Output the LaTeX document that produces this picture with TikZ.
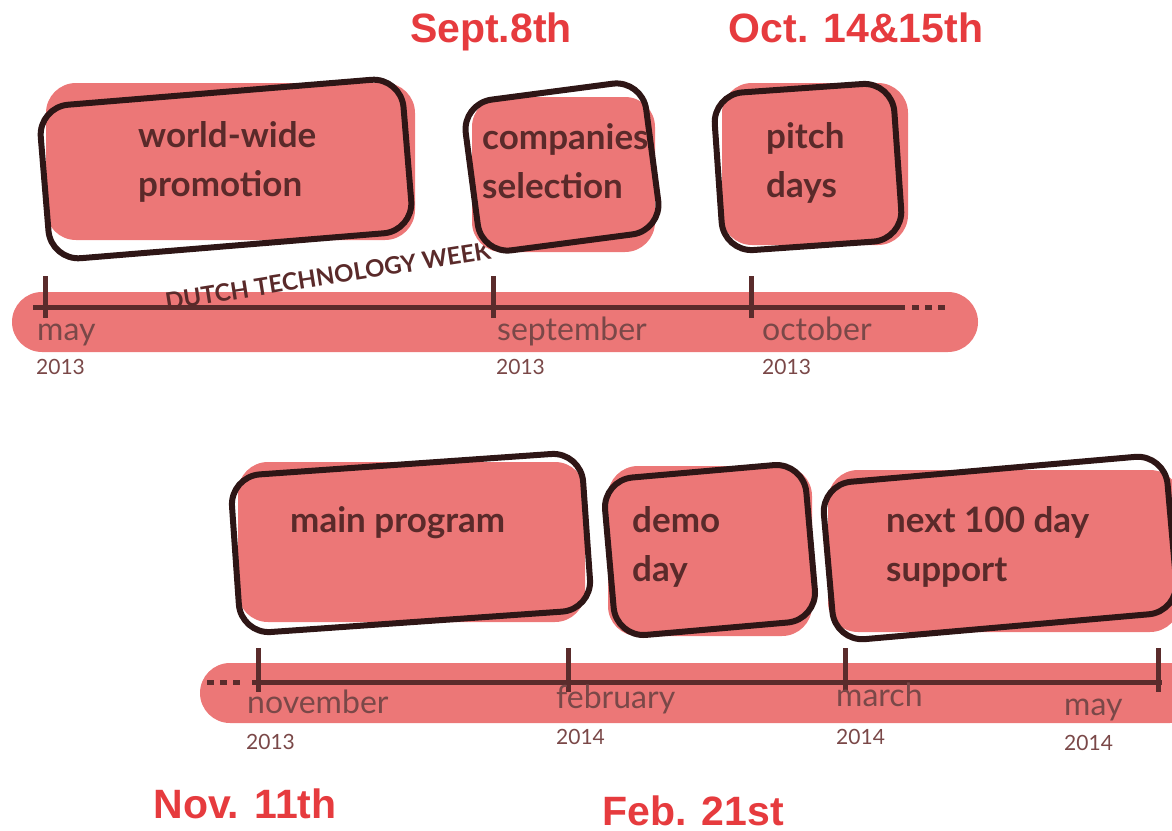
\documentclass[tikz,border=0pt]{standalone}
\usepackage{fontspec}
\setmainfont{Lato}
\newfontfamily\redfont{Liberation Sans}
\definecolor{pinkc}{HTML}{EC7777}
\definecolor{outc}{HTML}{2E1616}
\definecolor{linec}{HTML}{5A2C2C}
\definecolor{txtc}{HTML}{5A2A2A}
\definecolor{monthc}{HTML}{7A4848}
\definecolor{redc}{HTML}{E63B3E}
\tikzset{
  band/.style={fill=pinkc, rounded corners=30pt},
  pinkbox/.style={fill=pinkc, rounded corners=30pt},
  outline/.style={draw=outc, line width=6pt, rounded corners=30pt, inner sep=0pt},
  boxtext/.style={font=\fontsize{35}{49}\selectfont\bfseries, text=txtc, align=left, anchor=west, inner sep=0pt},
  axis/.style={draw=linec, line width=5pt},
  tick/.style={draw=linec, line width=5pt},
  month/.style={font=\fontsize{32}{33}\selectfont, text=monthc, anchor=base west, inner sep=0pt},
  year/.style={font=\fontsize{21}{22}\selectfont, text=monthc, anchor=base west, inner sep=0pt},
  datetext/.style={font=\redfont\bfseries\fontsize{41}{44}\selectfont, text=redc, anchor=base, inner sep=0pt},
  dots/.style={draw=linec, line width=5pt, dash pattern=on 7pt off 6pt}
}
\begin{document}
\begin{tikzpicture}[x=1pt,y=-1pt]
\useasboundingbox (0,0) rectangle (1172,830);
\clip (0,0) rectangle (1172,830);
% ---------- top timeline ----------
\fill[band] (12,292) rectangle (978,352);
\coordinate (tA) at (33,307);
\coordinate (tB) at (905,307);
\draw[axis] (tA) -- (tB);
\coordinate (d1) at (912,307);
\coordinate (d2) at (945,307);
\draw[dots] (d1) -- (d2);
\foreach \x/\n in {45/t1,493/t2,751/t3}{
  \coordinate (\n a) at (\x,276);
  \coordinate (\n b) at (\x,318);
  \draw[tick] (\n a) -- (\n b);
}
\node[month] (m1) at (37,340) {may};
\node[month] (m2) at (497,340) {september};
\node[month] (m3) at (762,340) {october};
\node[year] (y1) at (36,374) {2013};
\node[year] (y2) at (496,374) {2013};
\node[year] (y3) at (762,374) {2013};
\node[font=\fontsize{24}{26}\selectfont\bfseries, text=txtc, rotate=9, inner sep=0pt] (dtw) at (328,276) {DUTCH TECHNOLOGY WEEK};
% boxes top
\fill[pinkbox] (46,83) rectangle (415,240);
\node[outline, minimum width=364pt, minimum height=154pt, rotate=4.7] (o1) at (226,169) {};
\node[boxtext] (b1) at (138,162) {world-wide\\promotion};

\fill[pinkbox] (472,97) rectangle (655,252);
\node[outline, minimum width=182pt, minimum height=152pt, rotate=7.5] (o2) at (562,167) {};
\node[boxtext] (b2) at (482,161) {companies\\selection};

\fill[pinkbox] (722,83) rectangle (908,245);
\node[outline, minimum width=180pt, minimum height=158pt, rotate=4] (o3) at (808,167) {};
\node[boxtext] (b3) at (766,163) {pitch\\days};

\node[datetext] (s1) at (491,42) {Sept.8th};
\node[datetext] (s2) at (856,42) {Oct. 14\&15th};
% ---------- bottom timeline ----------
\fill[band] (200,663) rectangle (1200,723);
\coordinate (d3) at (207,682);
\coordinate (d4) at (240,682);
\draw[dots] (d3) -- (d4);
\coordinate (bA) at (252,682);
\coordinate (bB) at (1162,682);
\draw[axis] (bA) -- (bB);
\foreach \x/\n in {258/u1,568/u2,845/u3,1158/u4}{
  \coordinate (\n a) at (\x,648);
  \coordinate (\n b) at (\x,692);
  \draw[tick] (\n a) -- (\n b);
}
\node[month] (m4) at (247,713) {november};
\node[month] (m5) at (556,708) {february};
\node[month] (m6) at (836,706) {march};
\node[month] (m7) at (1064,715) {may};
\node[year] (y4) at (246,749) {2013};
\node[year] (y5) at (556,744) {2014};
\node[year] (y6) at (836,744) {2014};
\node[year] (y7) at (1064,750) {2014};
% boxes bottom
\fill[pinkbox] (238,462) rectangle (585,622);
\node[outline, minimum width=352pt, minimum height=158pt, rotate=4] (o4) at (411,543) {};
\node[boxtext] (b4) at (290,523) {main program};

\fill[pinkbox] (608,466) rectangle (812,636);
\node[outline, minimum width=202pt, minimum height=158pt, rotate=5] (o5) at (710,550) {};
\node[boxtext] (b5) at (632,547) {demo\\day};

\fill[pinkbox] (828,470) rectangle (1180,632);
\node[outline, minimum width=345pt, minimum height=158pt, rotate=5] (o6) at (1000,548) {};
\node[boxtext] (b6) at (886,547) {next 100 day\\support};

\node[datetext] (s3) at (245,818) {Nov. 11th};
\node[datetext] (s4) at (693,825) {Feb. 21st};
\end{tikzpicture}
\end{document}
